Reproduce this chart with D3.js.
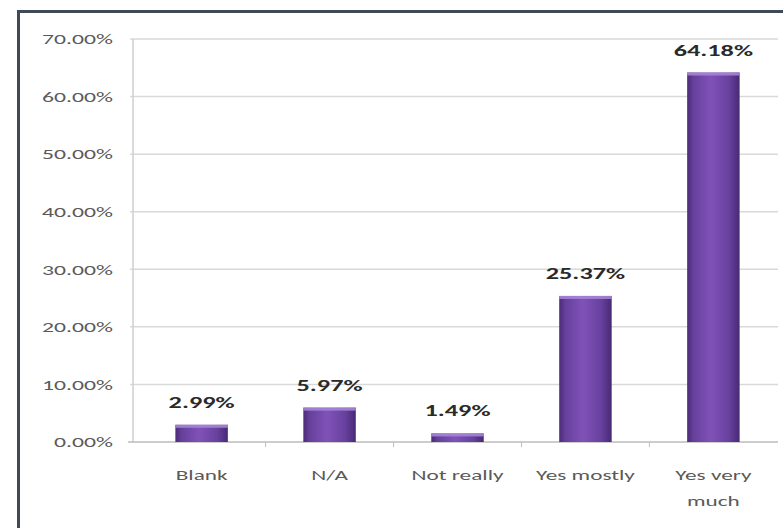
<!DOCTYPE html>
<html>
<head>
<meta charset="utf-8">
<script src="https://cdn.jsdelivr.net/npm/d3@7"></script>
<style>
  html, body { margin: 0; padding: 0; background: #fff; }
  svg { display: block; }
</style>
</head>
<body>
<svg id="chart" width="783" height="528"></svg>
<script>
// Survey answers and their share of responses (%)
const categories = ["Blank", "N/A", "Not really", "Yes mostly", "Yes very much"];
const shares = [2.99, 5.97, 1.49, 25.37, 64.18];
const yTicks = [0, 10, 20, 30, 40, 50, 60, 70];

const svg = d3.select("#chart");
const font = "Carlito, Lato, 'Liberation Sans', sans-serif";

// Place a text node at (px, py), widened horizontally by k
function placeText(sel, px, py, k) {
  sel.attr("transform", (d, i) => `translate(${px(d, i)},${py(d, i)}) scale(${k},1)`);
}

// Frame
svg.append("rect").attr("x", 18.5).attr("y", 11.5).attr("width", 780).attr("height", 530)
  .attr("fill", "#fff").attr("stroke", "#3e4a56").attr("stroke-width", 3);

const x = d3.scaleBand().domain(categories).range([137, 778]).paddingInner(0.59).paddingOuter(0.3);
const y = d3.scaleLinear().domain([0, 70]).range([442, 39]);

// Gradient for the bars: dark edges, lighter centre
const defs = svg.append("defs");
const grad = defs.append("linearGradient").attr("id", "barGrad").attr("x1", "0").attr("x2", "1").attr("y1", "0").attr("y2", "0");
grad.append("stop").attr("offset", "0%").attr("stop-color", "#4b2b78");
grad.append("stop").attr("offset", "12%").attr("stop-color", "#66409b");
grad.append("stop").attr("offset", "45%").attr("stop-color", "#8052b8");
grad.append("stop").attr("offset", "80%").attr("stop-color", "#67419e");
grad.append("stop").attr("offset", "100%").attr("stop-color", "#482974");

// Gridlines
svg.append("g").selectAll("line").data(yTicks.filter(d => d > 0)).join("line")
  .attr("x1", 130).attr("x2", 778)
  .attr("y1", d => y(d)).attr("y2", d => y(d))
  .attr("stroke", "#d9d9d9").attr("stroke-width", 1.5);

// Y axis labels
svg.append("g").selectAll("text").data(yTicks).join("text")
  .attr("dy", "0.35em")
  .attr("text-anchor", "end")
  .attr("font-family", font).attr("font-size", 15).attr("fill", "#5a5a5a")
  .text(d => d3.format(".2f")(d) + "%")
  .call(placeText, () => 113, d => y(d), 1.58);

// Axis lines
svg.append("line").attr("x1", 133).attr("x2", 133).attr("y1", y(70)).attr("y2", y(0))
  .attr("stroke", "#cfcfcf").attr("stroke-width", 1.5);
svg.append("line").attr("x1", 128).attr("x2", 778).attr("y1", y(0)).attr("y2", y(0))
  .attr("stroke", "#bdbdbd").attr("stroke-width", 1.5);

// Category boundary ticks
const step = x.step();
const bounds = categories.map(c => x(c) + x.bandwidth() / 2 + step / 2).slice(0, -1);
svg.append("g").selectAll("line").data(bounds).join("line")
  .attr("x1", d => d).attr("x2", d => d).attr("y1", y(0)).attr("y2", y(0) + 5)
  .attr("stroke", "#bdbdbd").attr("stroke-width", 1);

// Bars
const bars = svg.append("g").selectAll("g").data(categories).join("g");
bars.append("rect")
  .attr("x", d => x(d)).attr("width", x.bandwidth())
  .attr("y", (d, i) => y(shares[i])).attr("height", (d, i) => y(0) - y(shares[i]))
  .attr("fill", "url(#barGrad)");
// Lighter top cap
bars.append("rect")
  .attr("x", d => x(d)).attr("width", x.bandwidth())
  .attr("y", (d, i) => y(shares[i])).attr("height", 3)
  .attr("fill", "#a585d6").attr("opacity", 0.9);

// Value labels
svg.append("g").selectAll("text").data(categories).join("text")
  .attr("text-anchor", "middle")
  .attr("font-family", font).attr("font-size", 15).attr("font-weight", "bold").attr("fill", "#2a2a2a")
  .text((d, i) => d3.format(".2f")(shares[i]) + "%")
  .call(placeText, d => x(d) + x.bandwidth() / 2, (d, i) => y(shares[i]) - 17, 1.75);

// Category labels (wrapped where needed)
const catLines = { "Yes very much": ["Yes very", "much"] };
svg.append("g").selectAll("text").data(categories).join("text")
  .attr("text-anchor", "middle")
  .attr("font-family", font).attr("font-size", 15).attr("fill", "#5a5a5a")
  .call(placeText, d => x(d) + x.bandwidth() / 2, () => 480, 1.55)
  .each(function(d) {
    const lines = catLines[d] || [d];
    const t = d3.select(this);
    lines.forEach((ln, k) => {
      t.append("tspan").attr("x", 0).attr("y", k * 26).text(ln);
    });
  });
</script>
</body>
</html>
